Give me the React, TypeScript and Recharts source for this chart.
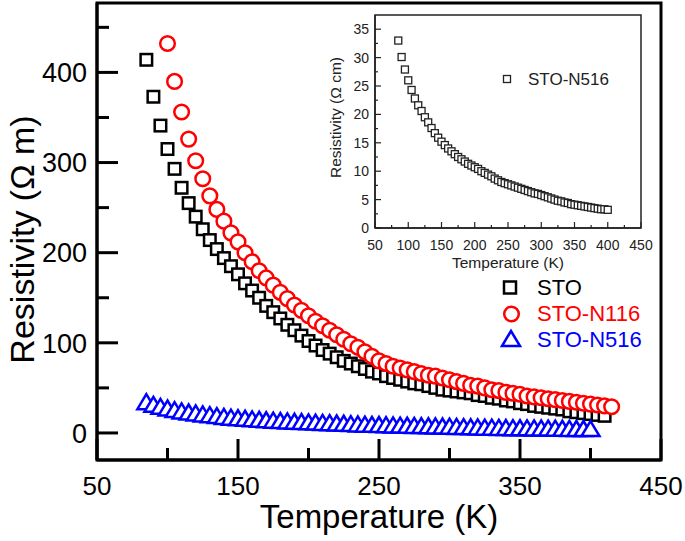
import React from "react";
import { ScatterChart, Scatter, XAxis, YAxis, ReferenceArea, Legend } from "recharts";

const FONT = '"Liberation Sans", Arial, sans-serif';

// STO (black squares), Ω m
const stoTemps = [85, 90, 95, 100, 105, 110, 115, 120, 125, 130, 135, 140, 145, 150, 155, 160, 165, 170, 175, 180, 185, 190, 195, 200, 205, 210, 215, 220, 225, 230, 235, 240, 245, 250, 255, 260, 265, 270, 275, 280, 285, 290, 295, 300, 305, 310, 315, 320, 325, 330, 335, 340, 345, 350, 355, 360, 365, 370, 375, 380, 385, 390, 395, 400, 405, 410];
const stoValues = [414, 373, 341, 315, 293, 272, 255, 240, 226, 214, 204, 194, 185, 176, 166, 158, 150, 141, 134, 127, 120, 114, 108, 102, 97, 92, 88, 84, 80, 77, 74, 71, 68, 66, 63, 61, 59, 57, 55, 54, 52, 50, 48, 47, 46, 45, 44, 42, 41, 39, 38, 36, 35, 33, 32, 30, 29, 28, 27, 26, 24, 23, 22, 21, 20, 19];

// STO-N116 (red circles)
const n116Temps = [100, 105, 110, 115, 120, 125, 130, 135, 140, 145, 150, 155, 160, 165, 170, 175, 180, 185, 190, 195, 200, 205, 210, 215, 220, 225, 230, 235, 240, 245, 250, 255, 260, 265, 270, 275, 280, 285, 290, 295, 300, 305, 310, 315, 320, 325, 330, 335, 340, 345, 350, 355, 360, 365, 370, 375, 380, 385, 390, 395, 400, 405, 410, 415];
const n116Values = [432, 390, 356, 326, 302, 282, 263, 248, 235, 222, 212, 200, 190, 180, 172, 164, 156, 149, 142, 136, 130, 124, 119, 114, 109, 104, 99, 95, 90, 85, 80, 77, 74, 72, 70, 68, 66, 64, 63, 61, 59, 57, 55, 53, 52, 50, 48, 47, 45, 44, 43, 41, 40, 39, 38, 37, 36, 35, 34, 33, 32, 31, 30, 29];

// STO-N516 (blue triangles, and the inset in Ω cm)
const n516Temps = [85, 90, 95, 100, 105, 110, 115, 120, 125, 130, 135, 140, 145, 150, 155, 160, 165, 170, 175, 180, 185, 190, 195, 200, 205, 210, 215, 220, 225, 230, 235, 240, 245, 250, 255, 260, 265, 270, 275, 280, 285, 290, 295, 300, 305, 310, 315, 320, 325, 330, 335, 340, 345, 350, 355, 360, 365, 370, 375, 380, 385, 390, 395, 400];
const n516Values = [33.0, 30.1, 27.9, 26.0, 24.3, 22.8, 21.6, 20.6, 19.5, 18.6, 17.6, 16.7, 15.9, 15.2, 14.6, 14.0, 13.5, 13.0, 12.5, 12.1, 11.7, 11.3, 11.0, 10.7, 10.4, 10.0, 9.7, 9.4, 9.1, 8.7, 8.4, 8.1, 7.9, 7.7, 7.5, 7.3, 7.1, 6.9, 6.7, 6.5, 6.3, 6.1, 6.0, 5.8, 5.6, 5.4, 5.2, 5.0, 4.8, 4.7, 4.5, 4.4, 4.2, 4.1, 4.0, 3.9, 3.8, 3.7, 3.6, 3.5, 3.4, 3.3, 3.3, 3.2];

// axis ticks
const mainXTicks = [50, 100, 150, 200, 250, 300, 350, 400, 450];
const mainXLabels = [50, 150, 250, 350, 450];
const mainYTicks = [0, 50, 100, 150, 200, 250, 300, 350, 400, 450];
const mainYLabels = [0, 100, 200, 300, 400];

const insetXTicks = [50, 75, 100, 125, 150, 175, 200, 225, 250, 275, 300, 325, 350, 375, 400, 425, 450];
const insetXLabels = [50, 100, 150, 200, 250, 300, 350, 400, 450];
const insetYTicks = [0, 2.5, 5, 7.5, 10, 12.5, 15, 17.5, 20, 22.5, 25, 27.5, 30, 32.5, 35];
const insetYLabels = [0, 5, 10, 15, 20, 25, 30, 35];

const toPoints = (xs: number[], ys: number[]) => xs.map((x, i) => ({ x, y: ys[i] }));

const stoData = toPoints(stoTemps, stoValues);
const n116Data = toPoints(n116Temps, n116Values);
const n516Data = toPoints(n516Temps, n516Values);

const RED = "#ff0000";
const BLUE = "#0000ff";
const INK = "#222";

const squareShape = (size: number, color: string, sw: number) => (p: any) =>
  <rect x={p.cx - size / 2} y={p.cy - size / 2} width={size} height={size} fill="#fff" stroke={color} strokeWidth={sw} />;

const circleShape = (p: any) => <circle cx={p.cx} cy={p.cy} r={7.3} fill="#fff" stroke={RED} strokeWidth={2.5} />;

const triangleShape = (p: any) => (
  <polygon
    points={`${p.cx},${p.cy - 9} ${p.cx - 9},${p.cy + 6} ${p.cx + 9},${p.cy + 6}`}
    fill="#fff"
    stroke={BLUE}
    strokeWidth={2.5}
    strokeLinejoin="miter"
  />
);

const MainXTick = (p: any) => {
  const major = mainXLabels.includes(p.payload.value);
  return (
    <g>
      <line x1={p.x} x2={p.x} y1={p.y} y2={p.y - (major ? 21 : 12)} stroke="#000" strokeWidth={3} />
      {major && (
        <text x={p.x} y={p.y + 35} textAnchor="middle" fontSize={26} fontFamily={FONT} fill="#000">
          {p.payload.value}
        </text>
      )}
    </g>
  );
};

const MainYTick = (p: any) => {
  const major = mainYLabels.includes(p.payload.value);
  return (
    <g>
      <line x1={p.x} x2={p.x + (major ? 21 : 12)} y1={p.y} y2={p.y} stroke="#000" strokeWidth={3} />
      {major && (
        <text x={p.x - 10} y={p.y} dy="0.36em" textAnchor="end" fontSize={27} fontFamily={FONT} fill="#000">
          {p.payload.value}
        </text>
      )}
    </g>
  );
};

const InsetXTick = (p: any) => {
  const major = insetXLabels.includes(p.payload.value);
  return (
    <g>
      <line x1={p.x} x2={p.x} y1={p.y} y2={p.y - (major ? 6 : 3)} stroke={INK} strokeWidth={1.2} />
      {major && (
        <text x={p.x} y={p.y + 22} textAnchor="middle" fontSize={14} fontFamily={FONT} fill={INK}>
          {p.payload.value}
        </text>
      )}
    </g>
  );
};

const InsetYTick = (p: any) => {
  const major = insetYLabels.includes(p.payload.value);
  return (
    <g>
      <line x1={p.x} x2={p.x + (major ? 6 : 3)} y1={p.y} y2={p.y} stroke={INK} strokeWidth={1.2} />
      {major && (
        <text x={p.x - 6} y={p.y} dy="0.36em" textAnchor="end" fontSize={14} fontFamily={FONT} fill={INK}>
          {p.payload.value}
        </text>
      )}
    </g>
  );
};

const MainLegend = () => (
  <svg width={170} height={84} style={{ display: "block" }}>
    <rect x={9} y={9.5} width={12} height={12} fill="#fff" stroke="#000" strokeWidth={2.5} />
    <circle cx={16.5} cy={42} r={7.3} fill="#fff" stroke={RED} strokeWidth={2.5} />
    <polygon points="16,59 7,74 25,74" fill="#fff" stroke={BLUE} strokeWidth={2.5} />
    <text x={42} y={23} fontSize={22} fontFamily={FONT} fill="#000">STO</text>
    <text x={42} y={49} fontSize={22} fontFamily={FONT} fill={RED}>STO-N116</text>
    <text x={42} y={75} fontSize={22} fontFamily={FONT} fill={BLUE}>STO-N516</text>
  </svg>
);

const InsetLegend = () => (
  <svg width={120} height={30} style={{ display: "block" }}>
    <rect x={3.5} y={10.5} width={7} height={7} fill="#fff" stroke={INK} strokeWidth={1.3} />
    <text x={28} y={20} fontSize={17} fontFamily={FONT} fill={INK}>STO-N516</text>
  </svg>
);

const mainYLabel = (props: any) => {
  const vb = props.viewBox;
  const cx = vb.x + 22;
  const cy = vb.y + vb.height / 2 + 8;
  return (
    <text x={cx} y={cy} transform={`rotate(-90 ${cx} ${cy})`} textAnchor="middle" dominantBaseline="central" fontSize={34} fontFamily={FONT} fill="#000">
      Resistivity (Ω m)
    </text>
  );
};

const insetYLabel = (props: any) => {
  const vb = props.viewBox;
  const cx = vb.x + 15;
  const cy = vb.y + vb.height / 2 - 4;
  return (
    <text x={cx} y={cy} transform={`rotate(-90 ${cx} ${cy})`} textAnchor="middle" dominantBaseline="central" fontSize={15.5} fontFamily={FONT} fill={INK}>
      Resistivity (Ω cm)
    </text>
  );
};

export default function App() {
  return (
    <div style={{ position: "absolute", left: 0, top: 0, width: 685, height: 541, background: "#fff" }}>
      <ScatterChart width={685} height={541} margin={{ top: 3, right: 24, bottom: 0, left: 0 }}>
        <XAxis
          type="number"
          dataKey="x"
          domain={[50, 450]}
          ticks={mainXTicks}
          interval={0}
          tickSize={0}
          tickMargin={0}
          tickLine={false}
          tick={<MainXTick />}
          height={81}
          allowDataOverflow
          axisLine={{ stroke: "#000", strokeWidth: 3 }}
          label={{ value: "Temperature (K)", position: "insideBottom", offset: 13, style: { fontSize: 33, fontFamily: FONT, fill: "#000" } }}
        />
        <YAxis
          type="number"
          dataKey="y"
          domain={[-30, 477]}
          ticks={mainYTicks}
          interval={0}
          tickSize={0}
          tickMargin={0}
          tickLine={false}
          tick={<MainYTick />}
          width={97}
          allowDataOverflow
          axisLine={{ stroke: "#000", strokeWidth: 3 }}
          label={{ content: mainYLabel }}
        />
        <ReferenceArea x1={50} x2={450} y1={-30} y2={477} fill="none" stroke="#000" strokeWidth={3} />
        <Scatter data={stoData} shape={squareShape(11.5, "#000", 2.5)} isAnimationActive={false} />
        <Scatter data={n116Data} shape={circleShape} isAnimationActive={false} />
        <Scatter data={n516Data} shape={triangleShape} isAnimationActive={false} />
        <Legend
          layout="horizontal"
          verticalAlign="middle"
          align="center"
          content={<MainLegend />}
          wrapperStyle={{ position: "absolute", left: 495, top: 272, width: 170, height: 84 }}
        />
      </ScatterChart>

      <div style={{ position: "absolute", left: 320, top: 0 }}>
        <ScatterChart width={335} height={280} margin={{ top: 15, right: 14, bottom: 0, left: 0 }}>
          <XAxis
            type="number"
            dataKey="x"
            domain={[50, 450]}
            ticks={insetXTicks}
            interval={0}
            tickSize={0}
            tickMargin={0}
            tickLine={false}
            tick={<InsetXTick />}
            height={52}
            allowDataOverflow
            axisLine={{ stroke: INK, strokeWidth: 1.5 }}
            label={{ value: "Temperature (K)", position: "insideBottom", offset: 12, style: { fontSize: 15.5, fontFamily: FONT, fill: INK } }}
          />
          <YAxis
            type="number"
            dataKey="y"
            domain={[0, 37.5]}
            ticks={insetYTicks}
            interval={0}
            tickSize={0}
            tickMargin={0}
            tickLine={false}
            tick={<InsetYTick />}
            width={55}
            allowDataOverflow
            axisLine={{ stroke: INK, strokeWidth: 1.5 }}
            label={{ content: insetYLabel }}
          />
          <ReferenceArea x1={50} x2={450} y1={0} y2={37.5} fill="none" stroke={INK} strokeWidth={1.5} />
          <Scatter data={n516Data} shape={squareShape(7, INK, 1.3)} isAnimationActive={false} />
          <Legend
            layout="horizontal"
            verticalAlign="middle"
            align="center"
            content={<InsetLegend />}
            wrapperStyle={{ position: "absolute", left: 180, top: 65, width: 120, height: 30 }}
          />
        </ScatterChart>
      </div>
    </div>
  );
}
